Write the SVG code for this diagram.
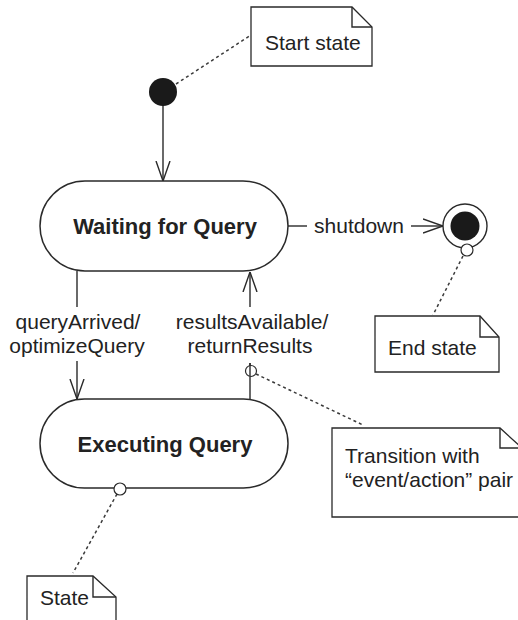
<svg xmlns="http://www.w3.org/2000/svg" width="518" height="620" viewBox="0 0 518 620">
  <style>
    .line { stroke: #2a2a2a; stroke-width: 1.4; fill: none; }
    .dot { stroke: #3a3a3a; stroke-width: 1.5; fill: none; stroke-dasharray: 3 3; }
    .state { fill: #fff; stroke: #2a2a2a; stroke-width: 1.5; }
    .note { fill: #fff; stroke: #2a2a2a; stroke-width: 1.3; }
    .solid { fill: #1a1a1a; }
    .lbl { font-family: "Liberation Sans", Arial, sans-serif; font-size: 21px; fill: #222; }
    .title { font-family: "Liberation Sans", Arial, sans-serif; font-size: 22px; font-weight: bold; fill: #222; }
    .anchor { fill: #fff; stroke: #2a2a2a; stroke-width: 1.2; }
  </style>
  <defs>
    <marker id="open" viewBox="0 0 20 16" refX="20" refY="8" markerWidth="20" markerHeight="16" markerUnits="userSpaceOnUse" orient="auto">
      <path d="M0,1 L20,8 L0,15" fill="none" stroke="#2a2a2a" stroke-width="1.4"/>
    </marker>
  </defs>

  <rect width="518" height="620" fill="#fff"/>

  <!-- connectors -->
  <g id="connectors">
    <line class="line" x1="163" y1="104" x2="163" y2="181" marker-end="url(#open)"/>
    <line class="line" x1="288" y1="226" x2="307" y2="226"/>
    <line class="line" x1="411" y1="226" x2="443" y2="226" marker-end="url(#open)"/>
    <line class="line" x1="77" y1="271" x2="77" y2="307"/>
    <line class="line" x1="77" y1="361" x2="77" y2="399" marker-end="url(#open)"/>
    <line class="line" x1="250" y1="399" x2="250" y2="363"/>
    <line class="line" x1="250" y1="307" x2="250" y2="272" marker-end="url(#open)"/>
    <text class="lbl" x="359" y="233" text-anchor="middle">shutdown</text>
    <text class="lbl" x="78" y="329" text-anchor="middle">queryArrived/</text>
    <text class="lbl" x="77" y="353" text-anchor="middle">optimizeQuery</text>
    <text class="lbl" x="252" y="329" text-anchor="middle">resultsAvailable/</text>
    <text class="lbl" x="250" y="353" text-anchor="middle">returnResults</text>
  </g>

  <!-- note links -->
  <g id="note-links">
    <line class="dot" x1="176" y1="84" x2="251" y2="35"/>
    <line class="dot" x1="463" y1="256" x2="433" y2="315"/>
    <line class="dot" x1="256" y1="374" x2="363" y2="425"/>
    <line class="dot" x1="117" y1="494" x2="73" y2="573"/>
  </g>

  <!-- initial state -->
  <g id="start">
    <circle class="solid" cx="163" cy="92" r="14"/>
  </g>

  <!-- final state -->
  <g id="end">
    <circle cx="465" cy="226" r="22" fill="#fff" stroke="#2a2a2a" stroke-width="1.4"/>
    <circle class="solid" cx="465" cy="226" r="14.5"/>
    <circle class="anchor" cx="467" cy="250" r="6"/>
  </g>

  <g id="waiting">
    <rect class="state" x="40" y="181" width="248" height="90" rx="45" ry="45"/>
    <text class="title" x="165" y="234" text-anchor="middle">Waiting for Query</text>
  </g>

  <g id="executing">
    <rect class="state" x="40" y="399" width="248" height="89" rx="44.5" ry="44.5"/>
    <text class="title" x="165" y="452" text-anchor="middle">Executing Query</text>
    <circle class="anchor" cx="120" cy="489" r="6"/>
  </g>

  <!-- anchor on the resultsAvailable transition -->
  <g id="transition-anchor">
    <circle class="anchor" cx="251" cy="371" r="5.5"/>
    <line class="line" x1="250" y1="363" x2="250" y2="376"/>
  </g>

  <g id="note-start">
    <path class="note" d="M251,7 H352 L372,27 V66 H251 Z"/>
    <path class="line" d="M352,7 V27 H372"/>
    <text class="lbl" x="265" y="50">Start state</text>
  </g>

  <g id="note-end">
    <path class="note" d="M375,316 H480 L499,337 V372 H375 Z"/>
    <path class="line" d="M480,316 V337 H499"/>
    <text class="lbl" x="388" y="355">End state</text>
  </g>

  <g id="note-transition">
    <path class="note" d="M332,428 H500 L522,448 V517 H332 Z"/>
    <path class="line" d="M500,428 V448 H522"/>
    <text class="lbl" x="345" y="463">Transition with</text>
    <text class="lbl" x="345" y="487">“event/action” pair</text>
  </g>

  <g id="note-state">
    <path class="note" d="M27,576 H93 L116,597 V630 H27 Z"/>
    <path class="line" d="M93,576 V597 H116"/>
    <text class="lbl" x="40" y="605">State</text>
  </g>
</svg>
